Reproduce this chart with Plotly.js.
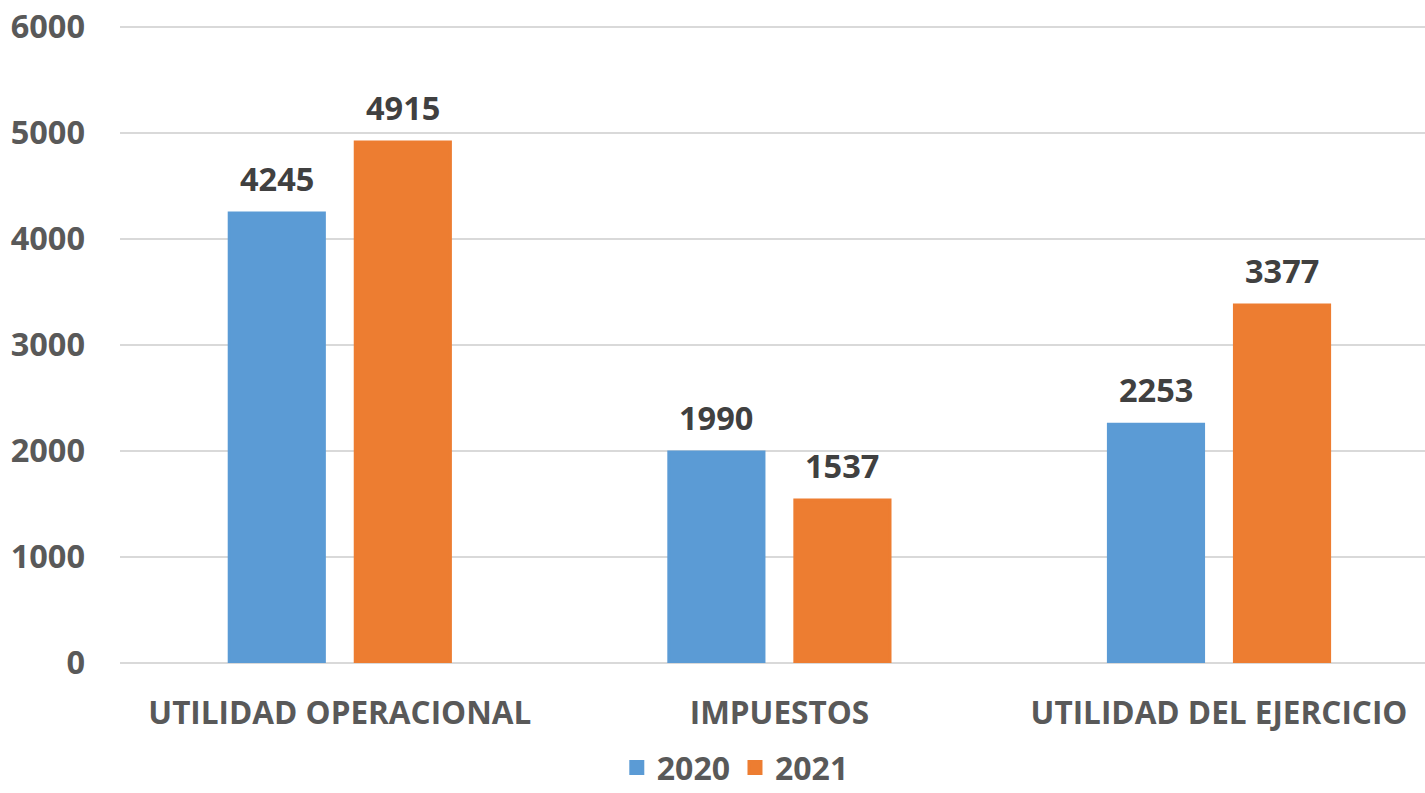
<!DOCTYPE html>
<html><head><meta charset="utf-8">
<script src="https://cdn.plot.ly/plotly-3.0.1.min.js"></script>
<style>html,body{margin:0;padding:0;background:#fff}#c{width:1425px;height:793px}</style>
</head><body><div id="c"></div>
<script>
const categories = ["UTILIDAD OPERACIONAL", "IMPUESTOS", "UTILIDAD DEL EJERCICIO"];
const seriesNames = ["2020", "2021"];
const values2020 = [4245, 1990, 2253];
const values2021 = [4915, 1537, 3377];
const yTicks = [0, 1000, 2000, 3000, 4000, 5000, 6000];
const colors = ["#5B9BD5", "#ED7D31"];

const FONT = "Open Sans, Lato, sans-serif";
const series = [values2020, values2021];
const traces = series.map((vals, i) => ({
  type: "bar", x: categories, y: vals, name: seriesNames[i],
  marker: {color: colors[i], line: {color: colors[i], width: 3}}, hoverinfo: "x+y"
}));

const annotations = [];
series.forEach((vals, i) => {
  vals.forEach((v, j) => {
    annotations.push({
      x: categories[j], y: v, xref: "x", yref: "y",
      text: String(v), showarrow: false,
      xanchor: "center", yanchor: "bottom",
      xshift: (i === 0 ? -63 : 63), yshift: 10,
      font: {family: FONT, size: 32.5, color: "#404040", weight: 700}
    });
  });
});

const layout = {
  width: 1425, height: 793,
  margin: {l: 120, r: 0, t: 26, b: 130},
  paper_bgcolor: "#fff", plot_bgcolor: "#fff",
  barmode: "group", bargap: 0.4266, bargroupgap: 0.245,
  showlegend: true,
  legend: {orientation: "h", xref: "container", yref: "container", x: 0.516, xanchor: "center", y: 0.032, yanchor: "middle",
    font: {family: FONT, size: 32, color: "#595959", weight: 700}, itemwidth: 30, traceorder: "normal"},
  xaxis: {type: "category", range: [-0.5, 2.4686], showgrid: false, zeroline: false, showline: false,
    ticks: "", ticklabelstandoff: 28,
    tickfont: {family: FONT, size: 31.5, color: "#595959", weight: 700}},
  yaxis: {range: [0, 6010], tickvals: yTicks, ticktext: yTicks.map(String),
    showgrid: true, gridcolor: "#D9D9D9", gridwidth: 2, zeroline: true, zerolinecolor: "#D9D9D9", zerolinewidth: 2,
    showline: false, ticks: "", ticklabelstandoff: 34,
    tickfont: {family: FONT, size: 32.5, color: "#595959", weight: 700}},
  annotations: annotations,
  font: {family: FONT}
};
Plotly.newPlot("c", traces, layout, {displayModeBar: false, staticPlot: true});
</script></body></html>
